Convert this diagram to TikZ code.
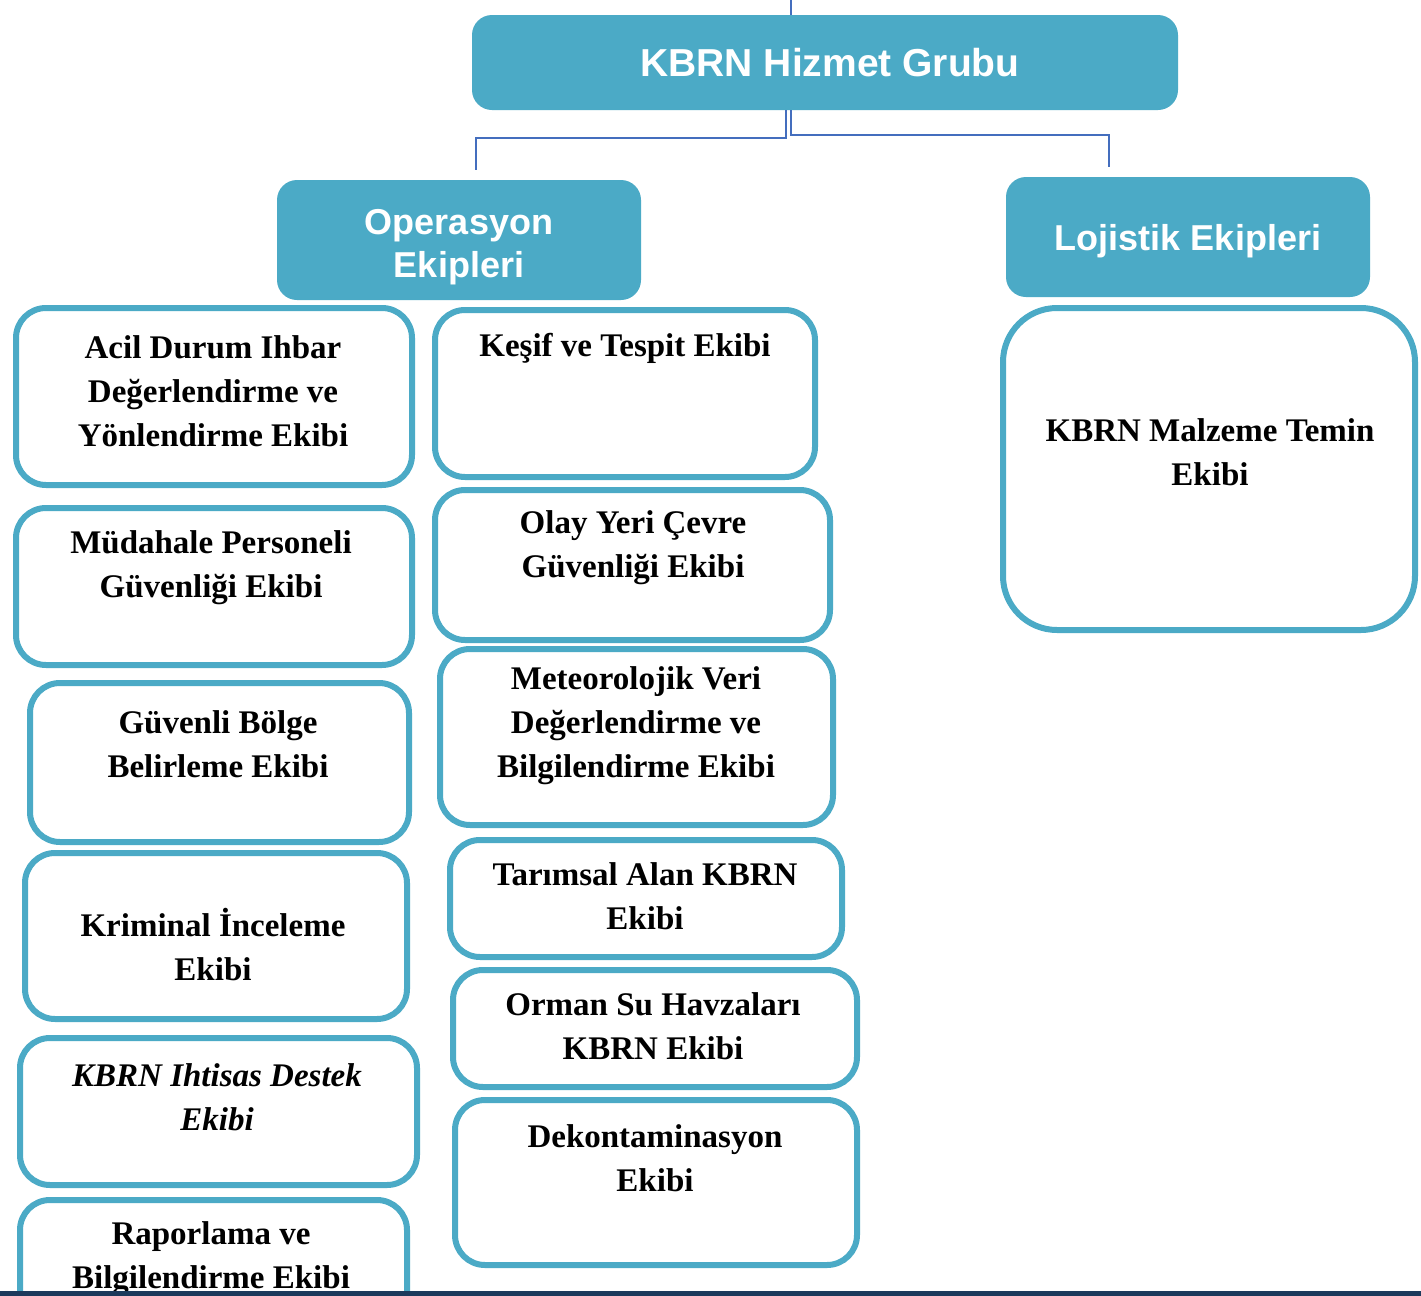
\documentclass[tikz,border=0pt]{standalone}
\usepackage{fontspec}
\setmainfont{Liberation Serif}
\setsansfont{Liberation Sans}
\usetikzlibrary{fit}
\definecolor{teal1}{RGB}{75,170,198}
\definecolor{connblue}{RGB}{68,110,190}
\definecolor{navy1}{RGB}{28,58,92}
\tikzset{
  wbox/.style={draw=teal1, line width=3pt, fill=white, rounded corners=15pt, inner sep=0pt},
  hbox/.style={fill=teal1, rounded corners=10pt, inner sep=0pt},
  btxt/.style={font=\fontsize{16.5}{22}\selectfont\bfseries, align=center, inner sep=0pt},
  itxt/.style={font=\fontsize{16.5}{22}\selectfont\bfseries\itshape, align=center, inner sep=0pt},
  htxt/.style={font=\sffamily\bfseries\fontsize{18}{21.5}\selectfont, text=white, align=center, inner sep=0pt},
  conn/.style={draw=connblue, line width=1pt}
}
\newcommand\wb[6][]{\node[wbox,#1, fit={(#3+3,#4+3) (#5-3,#6-3)}] (#2) {};}
\begin{document}
\begin{tikzpicture}[x=0.5pt,y=-0.5pt]
\useasboundingbox (0,0) rectangle (1421,1296);
\clip (0,0) rectangle (1421,1296);
\fill[white] (0,0) rectangle (1421,1296);

% left column
\wb{b1}{13}{305}{415}{488}
\wb{b2}{13}{505}{415}{668}
\wb{b3}{27}{680}{412}{845}
\wb{b4}{22}{850}{410}{1022}
\wb{b5}{17}{1035}{420}{1188}
\wb{b6}{17}{1197}{410}{1340}
% right column
\wb{c1}{432}{307}{818}{480}
\wb{c2}{432}{487}{833}{643}
\wb{c3}{437}{646}{836}{828}
\wb{c4}{447}{837}{845}{960}
\wb{c5}{450}{967}{860}{1090}
\wb{c6}{452}{1097}{860}{1268}
% logistics box
\wb[rounded corners=27pt]{d1}{1000}{305}{1418}{633}

% headers
\node[hbox, fit={(472,15) (1178,110)}] (top) {};
\node[hbox, fit={(277,180) (641,300)}] (ops) {};
\node[hbox, fit={(1006,177) (1370,297)}] (loj) {};

\node[htxt, font=\sffamily\bfseries\fontsize{19.5}{22}\selectfont] (ttop) at (830,63) {KBRN Hizmet Grubu};
\node[htxt] (tops) at (459,247) {Operasyon\\Ekipleri};
\node[htxt] (tloj) at (1188,241) {Lojistik Ekipleri};

% texts
\node[btxt] (tb1) at (213,391) {Acil Durum Ihbar\\Değerlendirme ve\\Yönlendirme Ekibi};
\node[btxt] (tb2) at (211,568) {Müdahale Personeli\\Güvenliği Ekibi};
\node[btxt] (tb3) at (218,744) {Güvenli Bölge\\Belirleme Ekibi};
\node[btxt] (tb4) at (213,945) {Kriminal İnceleme\\Ekibi};
\node[itxt] (tb5) at (217,1097) {KBRN Ihtisas Destek\\Ekibi};
\node[btxt] (tb6) at (211,1259) {Raporlama ve\\Bilgilendirme Ekibi};
\node[btxt] (tc1) at (625,348) {Keşif ve Tespit Ekibi};
\node[btxt] (tc2) at (633,548) {Olay Yeri Çevre\\Güvenliği Ekibi};
\node[btxt] (tc3) at (636,726) {Meteorolojik Veri\\Değerlendirme ve\\Bilgilendirme Ekibi};
\node[btxt] (tc4) at (645,896) {Tarımsal Alan KBRN\\Ekibi};
\node[btxt] (tc5) at (653,1026) {Orman Su Havzaları\\KBRN Ekibi};
\node[btxt] (tc6) at (655,1158) {Dekontaminasyon\\Ekibi};
\node[btxt] (td1) at (1210,452) {KBRN Malzeme Temin\\Ekibi};

% connectors
\coordinate (topin) at (791,0);
\coordinate (lend) at (476,170);
\coordinate (rend) at (1109,167);
\draw[conn] (topin) -- (topin |- top.north);
\draw[conn] (top.south -| 786,0) -- (786,138) -| (lend);
\draw[conn] (top.south -| 791,0) -- (791,135) -| (rend);

% bottom edge line
\fill[navy1] (0,1291) rectangle (1421,1296);
\end{tikzpicture}
\end{document}
